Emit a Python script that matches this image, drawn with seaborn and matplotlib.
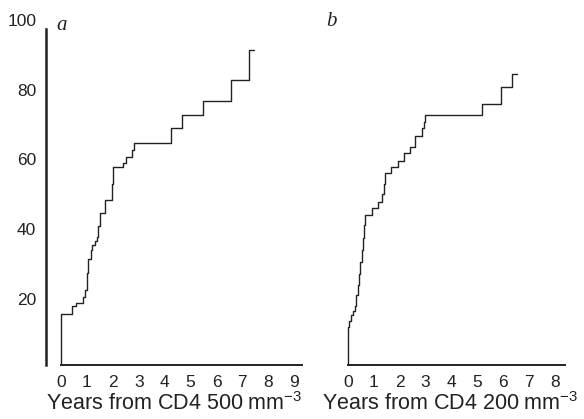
import matplotlib.pyplot as plt
import seaborn as sns
import pandas as pd

# panel a: years from CD4 500, cumulative % (step points)
years_a = [0, 0.41, 0.56, 0.85, 0.92, 0.99, 1.05, 1.15, 1.18, 1.30, 1.37, 1.44,
           1.49, 1.69, 1.97, 2.00, 2.40, 2.52, 2.72, 2.80, 4.25, 4.68, 5.47,
           6.56, 7.27, 7.46]
pct_a = [15.7, 17.8, 18.9, 20.5, 22.5, 27.3, 31.5, 34.0, 35.4, 36.5, 37.8, 41.0,
         44.7, 48.3, 53.0, 57.7, 58.9, 60.7, 62.7, 64.6, 68.9, 72.7, 76.7,
         82.7, 91.5, 91.5]

# panel b: years from CD4 200
years_b = [0, 0.05, 0.13, 0.20, 0.26, 0.32, 0.38, 0.43, 0.48, 0.53, 0.58, 0.62,
           0.65, 0.95, 1.16, 1.33, 1.40, 1.42, 1.65, 1.94, 2.17, 2.39, 2.58,
           2.88, 2.93, 2.97, 5.19, 5.91, 6.33, 6.53]
pct_b = [12.0, 13.5, 15.4, 16.5, 17.8, 21.0, 24.0, 27.0, 30.5, 34.0, 37.5, 41.2,
         44.0, 46.0, 47.9, 50.0, 53.0, 56.2, 57.9, 59.6, 61.7, 63.6, 66.7,
         68.9, 70.8, 72.7, 76.0, 80.8, 84.6, 84.6]

yticks = [20, 40, 60, 80, 100]
xticks_a = list(range(0, 10))
xticks_b = list(range(0, 9))

sns.set_style('white')
plt.rcParams['font.family'] = ['Liberation Sans', 'DejaVu Sans']
plt.rcParams['mathtext.default'] = 'regular'

fig = plt.figure(figsize=(5.84, 4.19), dpi=100)
W, H = 584, 419
bot = 1 - 365 / H
top = 1 - 20 / H
ax1 = fig.add_axes([46 / W, bot, (302 - 46) / W, top - bot])
ax2 = fig.add_axes([335 / W, bot, (565 - 335) / W, top - bot])

df_a = pd.DataFrame({'x': [0] + years_a, 'y': [1] + pct_a})
df_b = pd.DataFrame({'x': [0] + years_b, 'y': [1] + pct_b})

for ax, df in [(ax1, df_a), (ax2, df_b)]:
    sns.lineplot(data=df, x='x', y='y', ax=ax, color='#222222', lw=1.0,
                 drawstyle='steps-post', sort=False, estimator=None)

ax1.set_xlim(-0.58, 9.3)
ax2.set_xlim(-0.5, 8.4)
for ax in (ax1, ax2):
    ax.set_ylim(1, 100)
    ax.set_yticks(yticks)
    ax.tick_params(length=0, labelsize=12.5, colors='#222222')
    ax.tick_params(axis='x', pad=7)
    ax.tick_params(axis='y', pad=7)
    for s in ['top', 'right']:
        ax.spines[s].set_visible(False)
    ax.spines['bottom'].set_color('#222222')
    ax.spines['bottom'].set_linewidth(1.4)
    ax.set_ylabel('')

ax1.set_xticks(xticks_a)
ax1.spines['bottom'].set_bounds(0, 9.3)
ax1.spines['left'].set_bounds(1, 97.5)
ax1.spines['left'].set_color('#222222')
ax1.spines['left'].set_linewidth(1.8)

ax2.set_xticks(xticks_b)
ax2.spines['bottom'].set_bounds(0, 8.4)
ax2.spines['left'].set_visible(False)
ax2.set_yticklabels([])

ax1.set_xlabel(r'Years from CD4 500 mm$^{-3}$', fontsize=15.5, color='#222222', labelpad=2)
ax2.set_xlabel(r'Years from CD4 200 mm$^{-3}$', fontsize=15.5, color='#222222', labelpad=2)

fig.text(56 / W, 1 - 25 / H, 'a', family='Liberation Serif', style='italic',
         fontsize=15, va='center', color='#222222')
fig.text(326 / W, 1 - 22 / H, 'b', family='Liberation Serif', style='italic',
         fontsize=15, va='center', color='#222222')

fig.savefig('out.png', dpi=100)
